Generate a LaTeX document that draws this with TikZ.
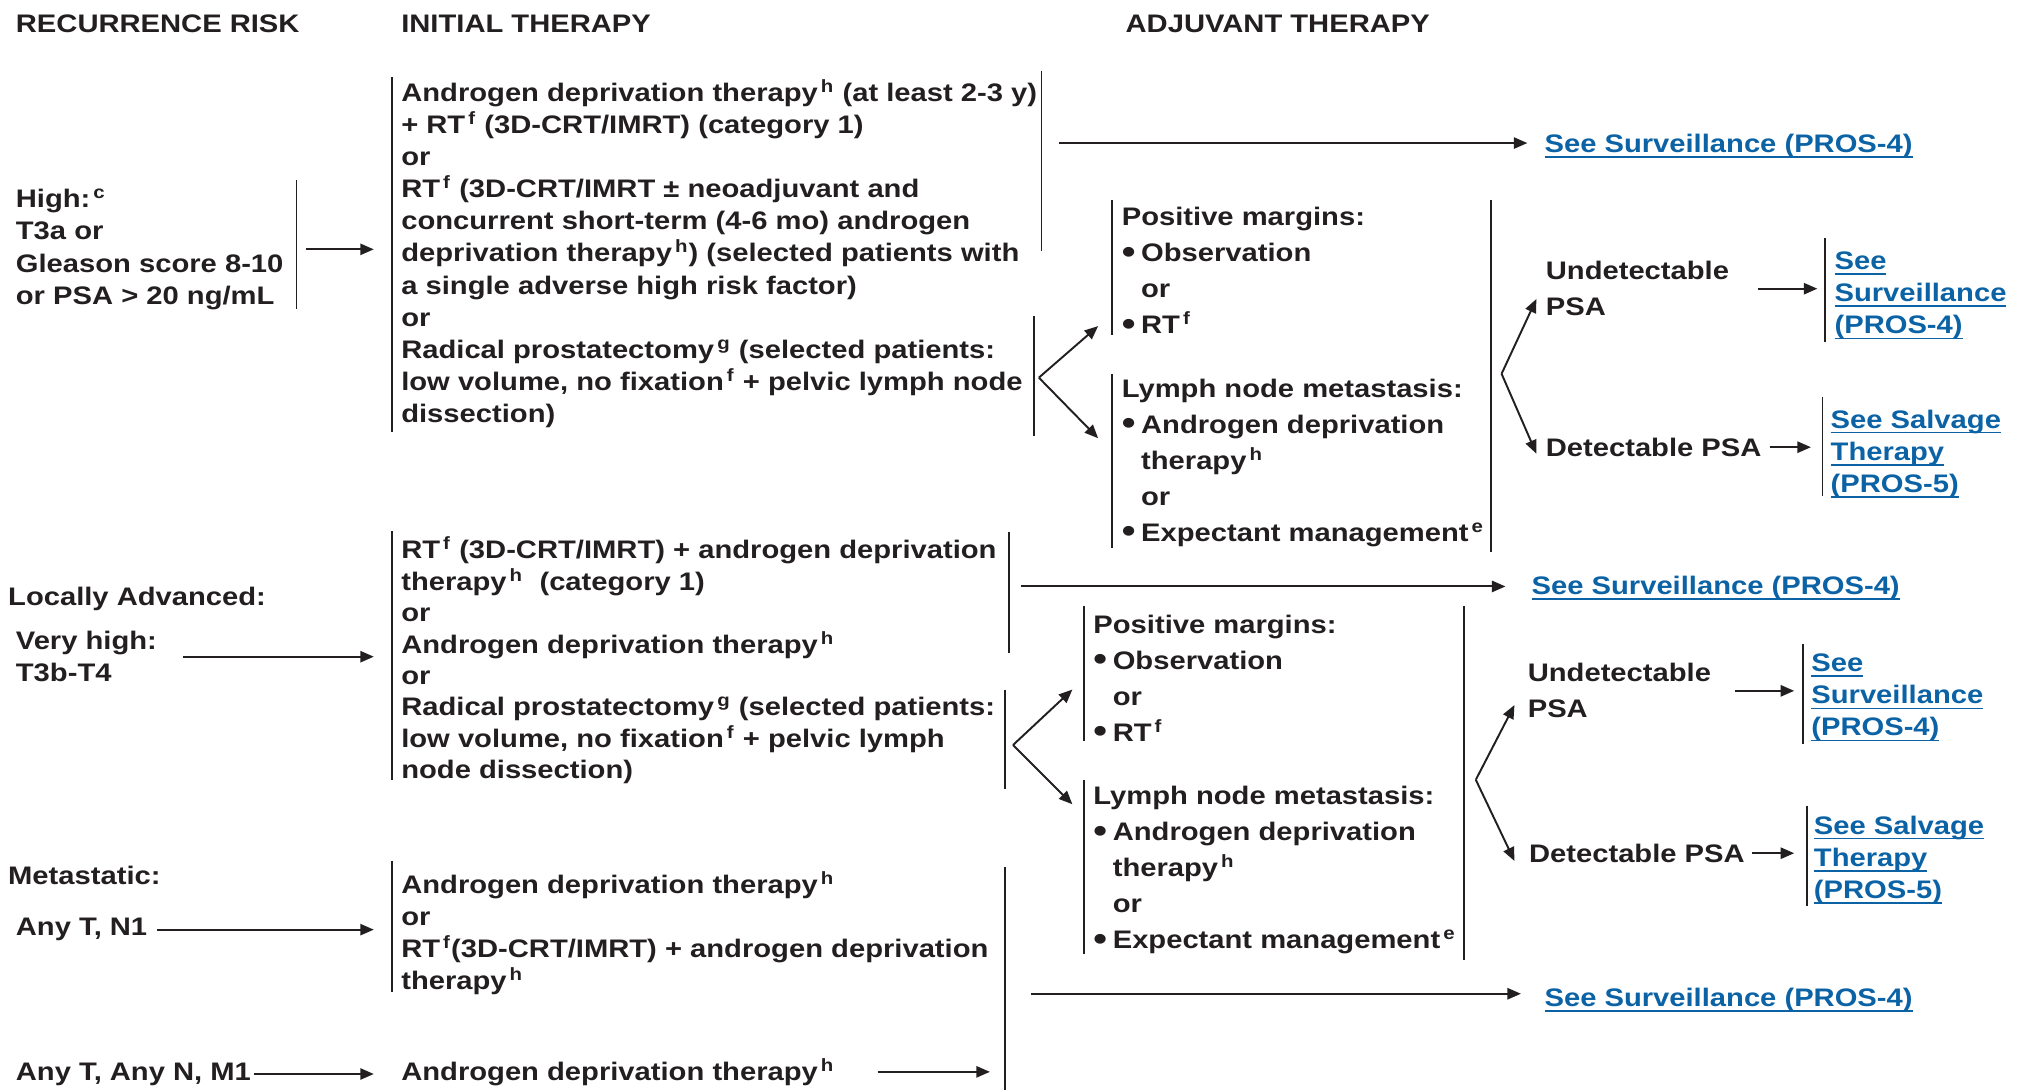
\documentclass[tikz,border=0pt]{standalone}
\usepackage{fontspec}
\setmainfont{Liberation Sans}[FakeStretch=1.15]
\usepackage{xcolor}
\usepackage{tikz}
\usetikzlibrary{arrows.meta}
\definecolor{inkDark}{HTML}{231F20}
\definecolor{linkBlue}{HTML}{0B63A5}
\newsavebox{\lnkbox}
\newcommand{\refnote}[1]{\kern0.12em\textsuperscript{#1}}
\newcommand{\bul}{\makebox[3mm][l]{\raisebox{-0.7pt}{\fontsize{15pt}{15pt}\selectfont\textbullet}}}
\newcommand{\ind}{\hspace*{3mm}}
\newcommand{\lnk}[1]{\sbox\lnkbox{#1}\rlap{\rule[-2.4pt]{\wd\lnkbox}{0.75pt}}\usebox\lnkbox}

\begin{document}
\begin{tikzpicture}[x=0.2mm, y=-0.2mm,
    txt/.style={anchor=base west, inner sep=0pt, align=left, text=inkDark,
                font=\bfseries\fontsize{11.2pt}{14.2pt}\selectfont},
    wide/.style={font=\bfseries\fontsize{11.2pt}{15.9pt}\selectfont},
    tight/.style={font=\bfseries\fontsize{11.2pt}{13.85pt}\selectfont},
    link/.style={txt, text=linkBlue},
    bar/.style={draw=inkDark, line width=0.8pt},
    arr/.style={draw=inkDark, line width=0.85pt, -{Triangle[length=2.1mm, width=1.75mm]}}]
  \useasboundingbox (0,0) rectangle (1568,846);

  % column heads
  \node[txt] (hdRisk) at (12,25) {RECURRENCE RISK};
  \node[txt] (hdInit) at (311,25) {INITIAL THERAPY};
  \node[txt] (hdAdj) at (873,25) {ADJUVANT THERAPY};

  % high risk
  \node[txt] (hiRisk) at (12,236) {High:\refnote{c}\\T3a or\\Gleason score 8-10\\or PSA > 20 ng/mL};
  \node[txt] (hiInit) at (311,328) {Androgen deprivation therapy\refnote{h} (at least 2-3 y)\\
    + RT\refnote{f} (3D-CRT/IMRT) (category 1)\\
    or\\
    RT\refnote{f} (3D-CRT/IMRT ± neoadjuvant and\\
    concurrent short-term (4-6 mo) androgen\\
    deprivation therapy\refnote{h}) (selected patients with\\
    a single adverse high risk factor)\\
    or\\
    Radical prostatectomy\refnote{g} (selected patients:\\
    low volume, no fixation\refnote{f} + pelvic lymph node\\
    dissection)};
  \node[link] (hiSurvA) at (1198,118) {\lnk{See Surveillance (PROS-4)}};
  \node[txt, wide] (hiPos) at (870,259) {Positive margins:\\\bul Observation\\\ind or\\\bul RT\refnote{f}};
  \node[txt, wide] (hiLn) at (870,420) {Lymph node metastasis:\\\bul Androgen deprivation\\\ind therapy\refnote{h}\\\ind or\\\bul Expectant management\refnote{e}};
  \node[txt, wide] (hiUnd) at (1199,245) {Undetectable\\PSA};
  \node[txt] (hiDet) at (1199,354) {Detectable PSA};
  \node[link] (hiSurvB) at (1423,259) {\lnk{See}\\\lnk{Surveillance}\\\lnk{(PROS-4)}};
  \node[link] (hiSalv) at (1420,382) {\lnk{See Salvage}\\\lnk{Therapy}\\\lnk{(PROS-5)}};

  % locally advanced
  \node[txt] (laHead) at (6,470) {Locally Advanced:};
  \node[txt] (laRisk) at (12,529) {Very high:\\T3b-T4};
  \node[txt, tight] (laInit) at (311,604) {RT\refnote{f} (3D-CRT/IMRT) + androgen deprivation\\
    therapy\refnote{h}\ \ (category 1)\\
    or\\
    Androgen deprivation therapy\refnote{h}\\
    or\\
    Radical prostatectomy\refnote{g} (selected patients:\\
    low volume, no fixation\refnote{f} + pelvic lymph\\
    node dissection)};
  \node[link] (laSurvA) at (1188,461) {\lnk{See Surveillance (PROS-4)}};
  \node[txt, wide] (laPos) at (848,575) {Positive margins:\\\bul Observation\\\ind or\\\bul RT\refnote{f}};
  \node[txt, wide] (laLn) at (848,736) {Lymph node metastasis:\\\bul Androgen deprivation\\\ind therapy\refnote{h}\\\ind or\\\bul Expectant management\refnote{e}};
  \node[txt, wide] (laUnd) at (1185,557) {Undetectable\\PSA};
  \node[txt] (laDet) at (1186,669) {Detectable PSA};
  \node[link] (laSurvB) at (1405,571) {\lnk{See}\\\lnk{Surveillance}\\\lnk{(PROS-4)}};
  \node[link] (laSalv) at (1407,697) {\lnk{See Salvage}\\\lnk{Therapy}\\\lnk{(PROS-5)}};

  % metastatic
  \node[txt] (mtHead) at (6,686) {Metastatic:};
  \node[txt] (mtN) at (12,726) {Any T, N1};
  \node[txt] (mtInit) at (311,768) {Androgen deprivation therapy\refnote{h}\\
    or\\
    RT\refnote{f}(3D-CRT/IMRT) + androgen deprivation\\
    therapy\refnote{h}};
  \node[txt] (mtM) at (12,838) {Any T, Any N, M1};
  \node[txt] (mtAdt) at (311,838) {Androgen deprivation therapy\refnote{h}};
  \node[link] (mtSurv) at (1198,781) {\lnk{See Surveillance (PROS-4)}};

  % brackets
  \foreach \x/\ya/\yb in {230/140/240, 304/60/335, 808/55/195, 802/245/338,
      863/155/260, 863/290/425, 1157/155/428, 1416/185/265, 1414/308/385,
      304/412/605, 783/413/507, 780/535/612, 841/470/575, 841/605/740,
      1136/470/745, 1399/500/577, 1402/625/703, 304/668/770, 780/673/846}
    \draw[bar] (\x,\ya) -- (\x,\yb);

  % branch points
  \coordinate (hiTop) at (822,111);
  \coordinate (hiFork) at (806,293);
  \coordinate (hiPosTip) at (852,253);
  \coordinate (hiLnTip) at (852,340);
  \coordinate (hiSplit) at (1165,290);
  \coordinate (hiUndTip) at (1192,232);
  \coordinate (hiDetTip) at (1192,352);
  \coordinate (laTop) at (792,455);
  \coordinate (laFork) at (786,578);
  \coordinate (laPosTip) at (832,535);
  \coordinate (laLnTip) at (832,624);
  \coordinate (laSplit) at (1145,605);
  \coordinate (laUndTip) at (1175,547);
  \coordinate (laDetTip) at (1175,668);
  \coordinate (mtOut) at (800,771);
  \coordinate (mtEnd) at (768,830);

  % arrows
  \draw[arr, shorten <=3.4mm, shorten >=4.2mm] (hiRisk.east) -- (hiRisk.east -| hiInit.west);
  \draw[arr, shorten >=2.6mm] (hiTop) -- (hiTop -| hiSurvA.west);
  \draw[arr] (hiFork) -- (hiPosTip);
  \draw[arr] (hiFork) -- (hiLnTip);
  \draw[arr] (hiSplit) -- (hiUndTip);
  \draw[arr] (hiSplit) -- (hiDetTip);
  \draw[arr, shorten <=4.4mm, shorten >=2.6mm] (hiUnd.east) -- (hiUnd.east -| hiSurvB.west);
  \draw[arr, shorten <=1.2mm, shorten >=3mm] (hiDet.east) -- (hiDet.east -| hiSalv.west);

  \draw[arr, shorten <=4mm, shorten >=4.2mm] (laRisk.east) -- (laRisk.east -| laInit.west);
  \draw[arr, shorten >=4mm] (laTop) -- (laTop -| laSurvA.west);
  \draw[arr] (laFork) -- (laPosTip);
  \draw[arr] (laFork) -- (laLnTip);
  \draw[arr] (laSplit) -- (laUndTip);
  \draw[arr] (laSplit) -- (laDetTip);
  \draw[arr, shorten <=3.6mm, shorten >=2.6mm] (laUnd.east) -- (laUnd.east -| laSurvB.west);
  \draw[arr, shorten <=1mm, shorten >=3mm] (laDet.east) -- (laDet.east -| laSalv.west);

  \draw[arr, shorten <=1.5mm, shorten >=4.2mm] (mtN.east) -- (mtN.east -| mtInit.west);
  \draw[arr, shorten <=0.4mm, shorten >=4.2mm] (mtM.east) -- (mtM.east -| mtAdt.west);
  \draw[arr, shorten <=6.6mm] (mtAdt.east) -- (mtAdt.east -| mtEnd);
  \draw[arr, shorten >=3.6mm] (mtOut) -- (mtOut -| mtSurv.west);
\end{tikzpicture}
\end{document}
